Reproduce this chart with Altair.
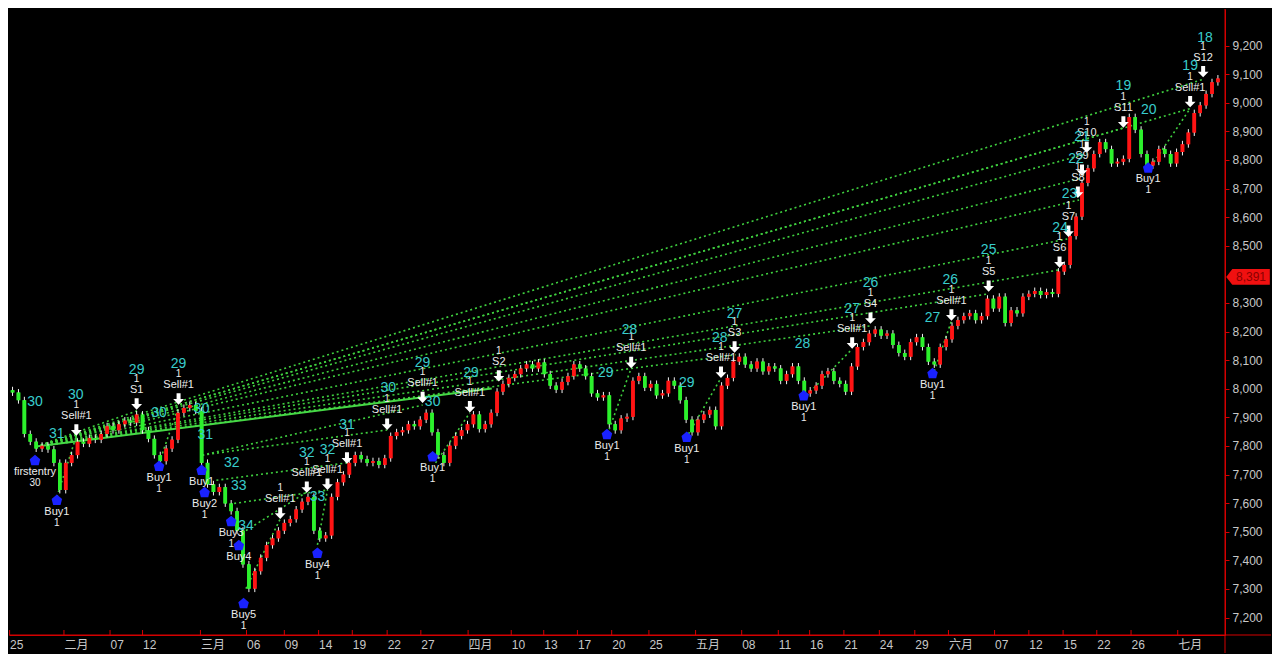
import json
import altair as alt
import pandas as pd

# ---------------- data ----------------
first_open = 7995
closes = [
    7987, 7960, 7842, 7815, 7791, 7801, 7788, 7741, 7646, 7741,
    7768, 7815, 7808, 7828, 7822, 7842, 7869, 7855, 7876, 7889,
    7882, 7910, 7855, 7825, 7768, 7747, 7791, 7822, 7916, 7933,
    7943, 7923, 7741, 7666, 7639, 7656, 7599, 7572, 7504, 7386,
    7301, 7362, 7409, 7453, 7477, 7504, 7531, 7544, 7578, 7605,
    7622, 7504, 7477, 7487, 7622, 7673, 7700, 7741, 7768, 7754,
    7741, 7747, 7734, 7757, 7835, 7848, 7855, 7876, 7869, 7892,
    7916, 7848, 7768, 7741, 7801, 7835, 7855, 7876, 7910, 7859,
    7876, 7916, 7990, 8017, 8038, 8051, 8071, 8085, 8071, 8092,
    8051, 8011, 7997, 8024, 8044, 8085, 8071, 8044, 7984, 7970,
    7977, 7876, 7855, 7896, 7902, 8028, 8044, 8004, 8017, 7977,
    7984, 8028, 8011, 7960, 7892, 7848, 7892, 7910, 7926, 7869,
    8011, 8038, 8095, 8112, 8085, 8071, 8095, 8061, 8078, 8071,
    8028, 8051, 8078, 8028, 7984, 7994, 8011, 8051, 8061, 8028,
    8017, 7990, 8078, 8146, 8163, 8193, 8207, 8186, 8193, 8153,
    8125, 8112, 8163, 8180, 8146, 8095, 8085, 8146, 8173, 8220,
    8240, 8254, 8264, 8240, 8254, 8315, 8281, 8322, 8230, 8274,
    8264, 8322, 8332, 8342, 8328, 8338, 8332, 8410, 8433, 8534,
    8602, 8720, 8771, 8821, 8862, 8838, 8788, 8794, 8804, 8950,
    8906, 8821, 8781, 8794, 8838, 8821, 8788, 8828, 8855, 8896,
    8964, 8991, 9031, 9072, 9085,
]
wick = 12

tick_pos = [-0.5, 8.7, 16.5, 22.0, 31.8, 39.6, 46.0, 51.8, 57.5, 63.4, 69.1,
            77.1, 84.4, 89.9, 95.6, 101.4, 107.7, 115.6, 123.4, 129.6, 134.9,
            140.7, 146.7, 152.7, 158.4, 166.2, 172.0, 177.8, 183.5, 189.3, 197.2]
tick_lab = ["25", "二月", "07", "12", "三月", "06", "09", "14", "19", "22", "27",
            "四月", "10", "13", "17", "20", "25", "五月", "08", "11", "16",
            "21", "24", "29", "六月", "07", "12", "15", "22", "26", "七月"]
# 8,400 is hidden behind the last-price tag in the reference
y_ticks = [7200, 7300, 7400, 7500, 7600, 7700, 7800, 7900, 8000, 8100, 8200,
           8300, 8500, 8600, 8700, 8800, 8900, 9000, 9100, 9200]

sell_i = [10.8, 21.0, 28.1, 45.3, 49.8, 53.3, 56.6, 63.4, 69.4, 77.4, 82.3,
          104.7, 119.9, 122.2, 142.1, 145.2, 158.9, 165.2, 177.2, 178.7, 180.3,
          181.0, 181.8, 188.0, 199.3, 201.5]
sell_p = [7856, 7947, 7964, 7565, 7656, 7666, 7758, 7876, 7970, 7937, 8045,
          8092, 8058, 8146, 8160, 8247, 8258, 8359, 8443, 8551, 8687,
          8764, 8845, 8933, 9004, 9109]
sell_lab = ["Sell#1", "S1", "Sell#1", "Sell#1", "Sell#1", "Sell#1", "Sell#1",
            "Sell#1", "Sell#1", "Sell#1", "S2", "Sell#1", "Sell#1", "S3",
            "Sell#1", "S4", "Sell#1", "S5", "S6", "S7", "S8", "S9", "S10",
            "S11", "Sell#1", "S12"]
sell_cnt = ["1"] * len(sell_i)

buy_i = [3.8, 7.5, 24.8, 32.0, 32.5, 37.0, 38.3, 39.1, 51.6, 71.1, 100.6,
         114.1, 133.9, 155.7, 192.2]
buy_p = [7751, 7612, 7731, 7717, 7639, 7538, 7454, 7251, 7427, 7764, 7842,
         7832, 7977, 8055, 8774]
buy_lab = ["firstentry", "Buy1", "Buy1", "Buy1", "Buy2", "Buy3", "Buy4",
           "Buy5", "Buy4", "Buy1", "Buy1", "Buy1", "Buy1", "Buy1", "Buy1"]
buy_cnt = ["30", "1", "1", "", "1", "1", "", "1", "1", "1", "1", "1", "1",
           "1", "1"]

cyan_i = [3.8, 10.7, 7.5, 21.0, 28.1, 24.8, 32.0, 32.6, 37.1, 38.3, 39.5,
          49.8, 53.3, 51.6, 56.6, 63.6, 71.1, 69.4, 77.6, 100.4, 114.1,
          104.4, 119.7, 122.2, 133.7, 142.1, 145.2, 155.7, 158.7, 165.2,
          177.3, 178.9, 180.0, 181.0, 188.0, 192.3, 199.3, 201.8]
cyan_p = [7954, 7977, 7842, 8065, 8085, 7916, 7930, 7839, 7741, 7660, 7521,
          7774, 7785, 7623, 7872, 8001, 7954, 8089, 8055, 8055, 8021,
          8207, 8177, 8261, 8156, 8278, 8369, 8247, 8379, 8484,
          8562, 8680, 8805, 8879, 9058, 8974, 9129, 9227]
cyan_txt = ["30", "30", "31", "29", "29", "30", "30", "31", "32", "33", "34",
            "32", "32", "33", "31", "30", "30", "29", "29", "29", "29",
            "28", "28", "27", "28", "27", "26", "27", "26", "25",
            "24", "23", "22", "21", "19", "20", "19", "18"]

fan_i0, fan_p0 = 4.0, 7798
fan_end_i = [21.1, 28.1, 122.4, 145.2, 165.2, 177.2, 178.5, 180.5, 181.0,
             181.8, 188.2, 199.3, 201.5]
fan_end_p = [7923, 7937, 8119, 8220, 8332, 8416, 8524, 8660, 8737, 8822,
             8913, 8980, 9082]

seg_i1 = [7.5, 24.8, 32.1, 32.1, 34.5, 37.5, 39.5, 39.5, 51.6, 71.6, 100.7,
          114.4, 134.4, 156.0, 192.7, 4.0]
seg_p1 = [7622, 7741, 7768, 7768, 7680, 7599, 7504, 7301, 7454, 7741, 7842,
          7842, 7977, 8062, 8778, 7798]
seg_i2 = [10.8, 28.1, 63.4, 69.4, 56.6, 53.3, 49.8, 45.3, 53.3, 77.4, 104.7,
          119.9, 142.1, 158.9, 199.3, 10.8]
seg_p2 = [7835, 7937, 7856, 7943, 7741, 7646, 7639, 7545, 7646, 7916, 8072,
          8038, 8139, 8237, 8980, 7835]

solid_i = [4.0, 81.1]
solid_p = [7798, 8001]

last_price = 8391

# ---------------- tables ----------------
opens = [first_open] + closes[:-1]
candles = pd.DataFrame({
    "i": list(range(len(closes))),
    "open": opens,
    "close": closes,
})
candles["hi"] = candles[["open", "close"]].max(axis=1) + wick
candles["lo"] = candles[["open", "close"]].min(axis=1) - wick
candles["dir"] = ["up" if c >= o else "down" for o, c in zip(opens, closes)]

lines = pd.DataFrame({
    "i1": [fan_i0] * len(fan_end_i) + seg_i1,
    "p1": [fan_p0] * len(fan_end_i) + seg_p1,
    "i2": fan_end_i + seg_i2,
    "p2": fan_end_p + seg_p2,
})
solid = pd.DataFrame({"i1": [solid_i[0]], "p1": [solid_p[0]],
                      "i2": [solid_i[1]], "p2": [solid_p[1]]})
sells = pd.DataFrame({"i": sell_i, "p": sell_p, "lab": sell_lab, "cnt": sell_cnt})
buys = pd.DataFrame({"i": buy_i, "p": buy_p, "lab": buy_lab, "cnt": buy_cnt})
cyan = pd.DataFrame({"i": cyan_i, "p": cyan_p, "t": cyan_txt})
ticks = pd.DataFrame({"t": tick_pos})
tag = pd.DataFrame({"p": [last_price], "t": [f"{last_price:,}"]})

# ---------------- chart ----------------
W, H = 1216, 626
FONT = "Liberation Sans, Noto Sans CJK SC"
RED = "#d40000"
xs = alt.Scale(domain=[-0.6, 205.2], nice=False, zero=False)
ys = alt.Scale(domain=[7139, 9328], nice=False, zero=False)

label_expr = (f"{json.dumps(tick_lab, ensure_ascii=False)}"
              f"[indexof({json.dumps(tick_pos)}, datum.value)]")

x_axis = alt.Axis(values=tick_pos, labelExpr=label_expr, orient="bottom",
                  domainColor=RED, domainWidth=1, ticks=False,
                  labelAlign="left", labelColor="#c8c8c8", labelFontSize=12,
                  labelFont=FONT, labelPadding=4, labelOverlap=False,
                  labelFlush=False, grid=False, title=None)
y_axis = alt.Axis(values=y_ticks, orient="right", format=",d",
                  domainColor=RED, domainWidth=1, tickColor=RED, tickSize=4,
                  labelColor="#c8c8c8", labelFontSize=12, labelFont=FONT,
                  labelPadding=3, grid=False, title=None)


def X(f):
    return alt.X(f, scale=xs, axis=x_axis)


def Y(f):
    return alt.Y(f, scale=ys, axis=y_axis)


bodies = alt.Chart(candles).mark_rule(strokeWidth=3.6, strokeCap="butt").encode(
    x=X("i:Q"),
    y=Y("open:Q"),
    y2="close:Q",
    color=alt.Color("dir:N", scale=alt.Scale(domain=["up", "down"],
                                             range=["#ff1414", "#2cf02c"]),
                    legend=None))

fan = alt.Chart(lines).mark_rule(color="#3fcf3f", strokeWidth=1.6,
                                 strokeDash=[2, 3]).encode(
    x=X("i1:Q"), y=Y("p1:Q"), x2="i2:Q", y2="p2:Q")
solid_line = alt.Chart(solid).mark_rule(color="#46d846", strokeWidth=2).encode(
    x=X("i1:Q"), y=Y("p1:Q"), x2="i2:Q", y2="p2:Q")

wicks = alt.Chart(candles).mark_rule(color="#f2f2f2", strokeWidth=1).encode(
    x=X("i:Q"), y=Y("lo:Q"), y2="hi:Q")

down_arrow = "M-0.35,-1L0.35,-1L0.35,0L0.95,0L0,1L-0.95,0L-0.35,0Z"
sell_pts = alt.Chart(sells).mark_point(shape=down_arrow, filled=True,
                                       color="white", size=130, opacity=1).encode(
    x=X("i:Q"), y=Y("p:Q"))
sell_txt = alt.Chart(sells).mark_text(dy=-14, fontSize=11, color="#ececec",
                                      font=FONT).encode(
    x=X("i:Q"), y=Y("p:Q"), text="lab:N")
sell_cnt_t = alt.Chart(sells).mark_text(dy=-25, fontSize=10, color="#ececec",
                                        font=FONT).encode(
    x=X("i:Q"), y=Y("p:Q"), text="cnt:N")

house = "M0,-1L1,-0.15L0.7,1L-0.7,1L-1,-0.15Z"
buy_pts = alt.Chart(buys).mark_point(shape=house, filled=True, color="#1a22ff",
                                     size=110, opacity=1).encode(
    x=X("i:Q"), y=Y("p:Q"))
buy_txt = alt.Chart(buys).mark_text(dy=12, fontSize=11, color="#ececec",
                                    font=FONT).encode(
    x=X("i:Q"), y=Y("p:Q"), text="lab:N")
buy_cnt_t = alt.Chart(buys).mark_text(dy=23, fontSize=10, color="#ececec",
                                      font=FONT).encode(
    x=X("i:Q"), y=Y("p:Q"), text="cnt:N")

cyan_t = alt.Chart(cyan).mark_text(fontSize=14, color="#38cccc",
                                   font=FONT).encode(
    x=X("i:Q"), y=Y("p:Q"), text="t:N")

in_ticks = alt.Chart(ticks).mark_rule(color=RED).encode(
    x=X("t:Q"), y=alt.value(H - 5), y2=alt.value(H))

tag_shape = "M-1,0L-0.72,-0.36L1,-0.36L1,0.36L-0.72,0.36Z"
tag_bg = alt.Chart(tag).mark_point(shape=tag_shape, filled=True, color="#f01010",
                                   size=1900, opacity=1).encode(
    x=alt.value(W + 23), y=Y("p:Q"))
tag_txt = alt.Chart(tag).mark_text(fontSize=12, color="#8a0000", font=FONT,
                                   align="center").encode(
    x=alt.value(W + 26), y=Y("p:Q"), text="t:N")

base_ext = alt.Chart(tag).mark_rule(color=RED).encode(
    x=alt.value(0), x2=alt.value(W + 46), y=alt.value(H))
vert_ext = alt.Chart(tag).mark_rule(color=RED).encode(
    x=alt.value(W), y=alt.value(0), y2=alt.value(H + 18))

chart = alt.layer(
    bodies, fan, solid_line, wicks, bodies, sell_pts, sell_txt, sell_cnt_t,
    buy_pts, buy_txt, buy_cnt_t, cyan_t, in_ticks, base_ext, vert_ext,
    tag_bg, tag_txt,
).properties(
    width=W, height=H, background="black",
    padding={"left": 0, "top": 0, "right": 0, "bottom": 0},
).configure_view(stroke=None)

chart.save("out.html", embed_options={"renderer": "svg", "actions": False})
